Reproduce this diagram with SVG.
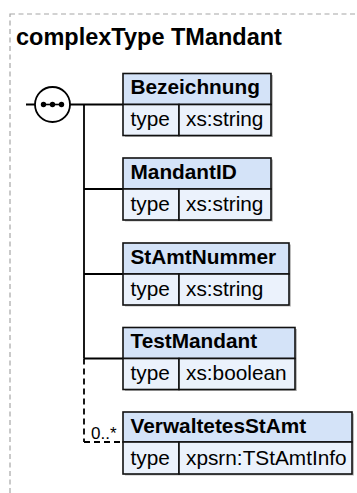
<svg xmlns="http://www.w3.org/2000/svg" width="357" height="493" viewBox="0 0 357 493">
<style>
.frame{fill:none;stroke:#a6a6a6;stroke-width:1.2;stroke-dasharray:5,3.5}
.title{font-family:"Liberation Sans",Arial,sans-serif;font-weight:bold;font-size:23.5px;fill:#000}
.shadow{fill:#bdbdbd}
.hdr{fill:#d4e3f8;stroke:#111;stroke-width:1.6}
.row{fill:#ebf2fc;stroke:#111;stroke-width:1.6}
.name{font-family:"Liberation Sans",Arial,sans-serif;font-weight:bold;font-size:20.8px;fill:#000}
.txt{font-family:"Liberation Sans",Arial,sans-serif;font-size:20.8px;fill:#000}
.card{font-family:"Liberation Sans",Arial,sans-serif;font-size:17px;fill:#000}
.ln{fill:none;stroke:#000;stroke-width:1.8}
.dash{fill:none;stroke:#000;stroke-width:1.8;stroke-dasharray:6,4}
</style>
<rect class="frame" x="10" y="14" width="360" height="500"/>
<text class="title" x="16" y="45">complexType TMandant</text>
<g id="connectors">
<line class="ln" x1="26" y1="104.5" x2="123" y2="104.5"/>
<line class="ln" x1="84" y1="104.5" x2="84" y2="358.5"/>
<line class="ln" x1="84" y1="189" x2="123" y2="189"/>
<line class="ln" x1="84" y1="274" x2="123" y2="274"/>
<line class="ln" x1="84" y1="358.5" x2="123" y2="358.5"/>
<line class="dash" x1="84" y1="358.5" x2="84" y2="442"/>
<line class="dash" x1="84" y1="442" x2="123" y2="442"/>
<text class="card" x="91" y="439">0..*</text>
</g>
<g id="sequence">
<circle cx="52.5" cy="104.5" r="17.5" fill="#fff" stroke="#000" stroke-width="1.8"/>
<line x1="43" y1="104.5" x2="62" y2="104.5" stroke="#000" stroke-width="1.6"/>
<circle cx="43.5" cy="104.5" r="2.7" fill="#000"/>
<circle cx="52.5" cy="104.5" r="2.7" fill="#000"/>
<circle cx="61.5" cy="104.5" r="2.7" fill="#000"/>
</g>
<g id="Bezeichnung">
<rect class="shadow" x="125" y="75" width="148" height="62"/>
<rect class="hdr" x="123" y="73.5" width="148" height="31"/>
<rect class="row" x="123" y="104.5" width="56" height="31"/>
<rect class="row" x="179" y="104.5" width="92" height="31"/>
<text class="name" x="130.5" y="94">Bezeichnung</text>
<text class="txt" x="130.5" y="126">type</text>
<text class="txt" x="186" y="126">xs:string</text>
</g>
<g id="MandantID">
<rect class="shadow" x="125" y="159.5" width="148" height="62"/>
<rect class="hdr" x="123" y="158" width="148" height="31"/>
<rect class="row" x="123" y="189" width="56" height="31"/>
<rect class="row" x="179" y="189" width="92" height="31"/>
<text class="name" x="130.5" y="178.5">MandantID</text>
<text class="txt" x="130.5" y="210.5">type</text>
<text class="txt" x="186" y="210.5">xs:string</text>
</g>
<g id="StAmtNummer">
<rect class="shadow" x="125" y="244.5" width="166" height="62"/>
<rect class="hdr" x="123" y="243" width="166" height="31"/>
<rect class="row" x="123" y="274" width="56" height="31"/>
<rect class="row" x="179" y="274" width="110" height="31"/>
<text class="name" x="130.5" y="263.5">StAmtNummer</text>
<text class="txt" x="130.5" y="295.5">type</text>
<text class="txt" x="186" y="295.5">xs:string</text>
</g>
<g id="TestMandant">
<rect class="shadow" x="125" y="329" width="172" height="62"/>
<rect class="hdr" x="123" y="327.5" width="172" height="31"/>
<rect class="row" x="123" y="358.5" width="56" height="31"/>
<rect class="row" x="179" y="358.5" width="116" height="31"/>
<text class="name" x="130.5" y="348">TestMandant</text>
<text class="txt" x="130.5" y="380">type</text>
<text class="txt" x="186" y="380">xs:boolean</text>
</g>
<g id="VerwaltetesStAmt">
<rect class="shadow" x="125" y="413.5" width="229" height="62"/>
<rect class="hdr" x="123" y="412" width="229" height="30"/>
<rect class="row" x="123" y="442" width="56" height="32"/>
<rect class="row" x="179" y="442" width="173" height="32"/>
<text class="name" x="130.5" y="432.5">VerwaltetesStAmt</text>
<text class="txt" x="130.5" y="465">type</text>
<text class="txt" x="186" y="465">xpsrn:TStAmtInfo</text>
</g>
</svg>
